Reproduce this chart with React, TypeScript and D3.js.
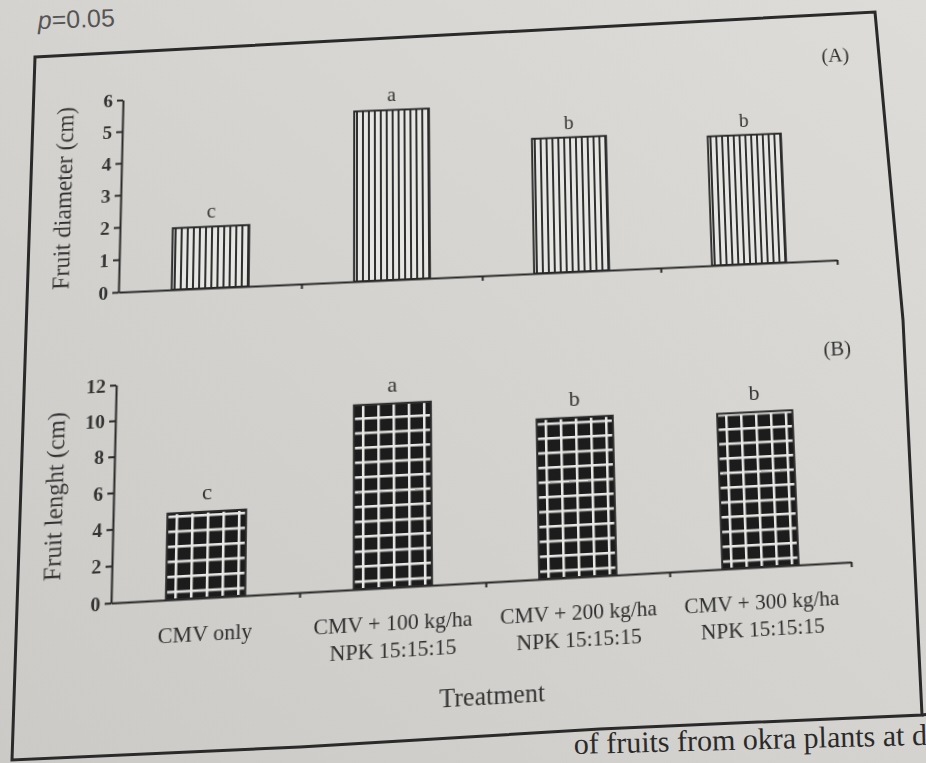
import React, { useEffect, useRef } from 'react'
import * as d3 from 'd3'

// treatments (x axis), split in lines as printed
const treatments = ['CMV only', 'CMV + 100 kg/ha', 'CMV + 200 kg/ha', 'CMV + 300 kg/ha']
const treatmentLines = [['CMV only'], ['CMV + 100 kg/ha', 'NPK 15:15:15'], ['CMV + 200 kg/ha', 'NPK 15:15:15'], ['CMV + 300 kg/ha', 'NPK 15:15:15']]

// panel A - fruit diameter (cm)
const diameter = [1.9, 5.35, 4.25, 4.1]
const diameterLetters = ['c', 'a', 'b', 'b']
const diameterTicks = [0, 1, 2, 3, 4, 5, 6]

// panel B - fruit length (cm)
const fruitLength = [4.7, 10.2, 8.9, 8.7]
const lengthLetters = ['c', 'a', 'b', 'b']
const lengthTicks = [0, 2, 4, 6, 8, 10, 12]

// chart plane (flat) -> photographed page (tilted): top of axis A, end of axis A, both ends of axis B
const flatCorners = [[120, 100], [840, 298], [120, 603], [840, 603]]
const photoCorners = [[123, 100], [837, 260], [111, 603], [851, 562]]
// frame of the figure on the photographed page
const framePts = [[35, 57], [875, 12], [903, 320], [922, 715], [600, 729], [300, 747], [12, 760]]

const INK = '#2a2a2a'
const SERIF = '"Liberation Serif", "Times New Roman", serif'

// solve the 8 unknowns of a plane homography from 4 point pairs
function homography(src: number[][], dst: number[][]) {
    const A: number[][] = []
    const b: number[] = []
    for (let i = 0; i < 4; i++) {
        const [x, y] = src[i], [X, Y] = dst[i]
        A.push([x, y, 1, 0, 0, 0, -x * X, -y * X]); b.push(X)
        A.push([0, 0, 0, x, y, 1, -x * Y, -y * Y]); b.push(Y)
    }
    for (let c = 0; c < 8; c++) {
        let p = c
        for (let r = c + 1; r < 8; r++) if (Math.abs(A[r][c]) > Math.abs(A[p][c])) p = r
        ;[A[c], A[p]] = [A[p], A[c]]
        ;[b[c], b[p]] = [b[p], b[c]]
        for (let r = 0; r < 8; r++) {
            if (r === c) continue
            const f = A[r][c] / A[c][c]
            for (let k = c; k < 8; k++) A[r][k] -= f * A[c][k]
            b[r] -= f * b[c]
        }
    }
    const h = b.map((v, i) => v / A[i][i])
    return `matrix3d(${h[0]},${h[3]},0,${h[6]},${h[1]},${h[4]},0,${h[7]},0,0,1,0,${h[2]},${h[5]},0,1)`
}

function App() {
    const ref = useRef<SVGSVGElement>(null)

    useEffect(() => {
        const svg = d3.select(ref.current)
        svg.selectAll('*').remove()

        const defs = svg.append('defs')
        // vertical hatching for panel A
        const stripes = defs.append('pattern').attr('id', 'stripes')
            .attr('patternUnits', 'userSpaceOnUse').attr('width', 6).attr('height', 10)
        stripes.append('rect').attr('width', 6).attr('height', 10).attr('fill', '#e6e6e3')
        stripes.append('rect').attr('width', 2).attr('height', 10).attr('fill', '#303030')
        // white grid on black for panel B
        const grid = defs.append('pattern').attr('id', 'grid')
            .attr('patternUnits', 'userSpaceOnUse').attr('width', 15).attr('height', 14.5)
        grid.append('rect').attr('width', 15).attr('height', 14.5).attr('fill', '#1c1c1c')
        grid.append('rect').attr('width', 2.5).attr('height', 14.5).attr('fill', '#e8e8e6')
        grid.append('rect').attr('width', 15).attr('height', 2.5).attr('fill', '#e8e8e6')

        var x = d3.scaleBand<string>().domain(treatments).range([120, 840])
            .paddingInner(0.58).paddingOuter(0.29)
        var bounds = d3.scaleLinear().domain([0, treatments.length]).range([120, 840])

        var yA = d3.scaleLinear().domain([0, 6]).range([298, 100])
        var yB = d3.scaleLinear().domain([0, 12]).range([603, 391])

        function panel(values: number[], letters: string[], y: d3.ScaleLinear<number, number>,
                       ticks: number[], title: string, tag: string, tagPos: number[],
                       fill: string, letterSize: number) {
            const g = svg.append('g')
            const base = y(0)

            g.selectAll('rect.bar').data(values).enter().append('rect')
                .attr('class', 'bar')
                .attr('x', (d, i) => x(treatments[i]) as number)
                .attr('y', d => y(d))
                .attr('width', x.bandwidth())
                .attr('height', d => base - y(d))
                .attr('fill', `url(#${fill})`)
                .attr('stroke', INK).attr('stroke-width', 2)

            g.selectAll('text.letter').data(letters).enter().append('text')
                .attr('class', 'letter')
                .attr('x', (d, i) => (x(treatments[i]) as number) + x.bandwidth() / 2)
                .attr('y', (d, i) => y(values[i]) - (letterSize > 20 ? 12 : 9))
                .attr('text-anchor', 'middle')
                .attr('font-size', letterSize).attr('font-family', SERIF).attr('fill', '#333')
                .text(d => d)

            const left = g.append('g').attr('transform', 'translate(120,0)')
                .call(d3.axisLeft(y).tickValues(ticks).tickSize(6).tickSizeOuter(0).tickPadding(4).tickFormat(d3.format('d')))
            const bottom = g.append('g').attr('transform', `translate(0,${base})`)
                .call(d3.axisBottom(bounds).tickValues([1, 2, 3, 4]).tickSize(5).tickSizeOuter(0).tickFormat(() => ''))
            for (const ax of [left, bottom]) {
                ax.select('.domain').attr('stroke', INK).attr('stroke-width', 2)
                ax.selectAll('.tick line').attr('stroke', INK).attr('stroke-width', 2)
                ax.selectAll('.tick text').attr('font-size', 19).attr('font-weight', 'bold')
                    .attr('font-family', SERIF).attr('fill', '#333')
            }

            g.append('text')
                .attr('transform', `translate(63,${(y.range()[0] + y.range()[1]) / 2}) rotate(-90)`)
                .attr('text-anchor', 'middle').attr('dominant-baseline', 'central')
                .attr('font-size', 24).attr('font-family', SERIF).attr('fill', '#333')
                .text(title)

            g.append('text')
                .attr('x', tagPos[0]).attr('y', tagPos[1])
                .attr('text-anchor', 'middle')
                .attr('font-size', 21).attr('font-family', SERIF).attr('fill', '#333')
                .text(tag)
        }

        panel(diameter, diameterLetters, yA, diameterTicks, 'Fruit diameter (cm)', '(A)', [848, 88], 'stripes', 20)
        panel(fruitLength, lengthLetters, yB, lengthTicks, 'Fruit lenght (cm)', '(B)', [836, 396], 'grid', 22)

        // category labels under panel B
        const labels = svg.append('g')
        treatmentLines.forEach((lines, i) => {
            const t = labels.append('text')
                .attr('text-anchor', 'middle')
                .attr('font-size', 21).attr('font-family', SERIF).attr('fill', '#2e2e2e')
            lines.forEach((line, j) => {
                t.append('tspan')
                    .attr('x', (x(treatments[i]) as number) + x.bandwidth() / 2)
                    .attr('y', 644 + j * 26)
                    .text(line)
            })
        })
        labels.append('text')
            .attr('x', 485).attr('y', 720)
            .attr('text-anchor', 'middle')
            .attr('font-size', 25).attr('font-family', SERIF).attr('fill', '#333')
            .text('Treatment')
    }, [])

    return (
        <div style={{ position: 'fixed', left: 0, top: 0, width: 926, height: 763, overflow: 'hidden' }}>
            <svg width={926} height={763} style={{ position: 'absolute', left: 0, top: 0 }}>
                <defs>
                    <linearGradient id="paper" x1="1" y1="0" x2="0" y2="1">
                        <stop offset="0" stopColor="#dddcd8" />
                        <stop offset="1" stopColor="#cbcac6" />
                    </linearGradient>
                </defs>
                <rect width={926} height={763} fill="url(#paper)" />
                <path d={'M' + framePts.map(p => p.join(',')).join('L') + 'Z'}
                      fill="none" stroke={INK} strokeWidth={3} />
                <line x1={922} y1={715} x2={930} y2={714} stroke={INK} strokeWidth={3} />
                <text x={38} y={29} transform="rotate(-2,38,29)" fontSize={25}
                      fontFamily='"Liberation Sans", Arial, sans-serif' fill="#555">
                    <tspan fontStyle="italic">p</tspan>=0.05
                </text>
                <text x={574} y={754} transform="rotate(-1.5,574,754)" fontSize={30}
                      fontFamily={SERIF} fill="#2a2a2a">
                    of fruits from okra plants at d
                </text>
            </svg>
            <svg ref={ref} width={926} height={763}
                 style={{ position: 'absolute', left: 0, top: 0, overflow: 'visible',
                          transformOrigin: '0 0', transform: homography(flatCorners, photoCorners) }} />
        </div>
    )
}

export default App
